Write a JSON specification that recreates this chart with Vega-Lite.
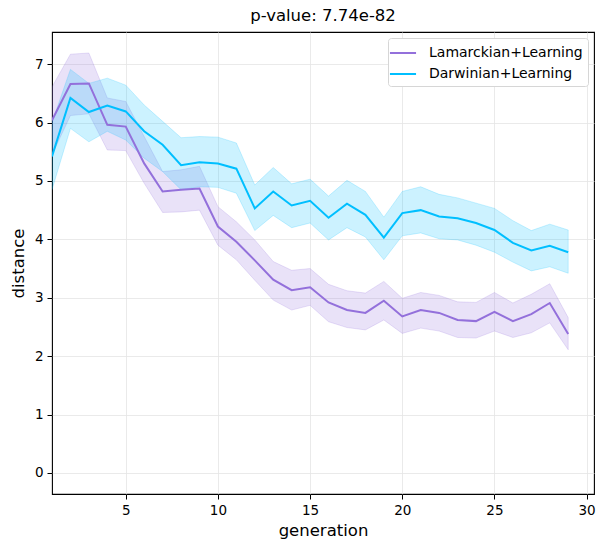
{
  "$schema": "https://vega.github.io/schema/vega-lite/v6.json",
  "width": 542,
  "height": 462,
  "autosize": "none",
  "padding": {"left": 52, "top": 32, "right": 11, "bottom": 57},
  "background": "white",
  "title": {"text": "p-value: 7.74e-82", "font": "DejaVu Sans", "fontSize": 16.5, "fontWeight": "normal", "color": "black", "offset": 8},
  "datasets": {
    "runs": [
      {"generation": 1, "method": "Lamarckian+Learning", "mean": 6.04, "lo": 5.45, "hi": 6.61},
      {"generation": 2, "method": "Lamarckian+Learning", "mean": 6.66, "lo": 6.12, "hi": 7.17},
      {"generation": 3, "method": "Lamarckian+Learning", "mean": 6.67, "lo": 6.15, "hi": 7.19},
      {"generation": 4, "method": "Lamarckian+Learning", "mean": 5.96, "lo": 5.53, "hi": 6.42},
      {"generation": 5, "method": "Lamarckian+Learning", "mean": 5.93, "lo": 5.52, "hi": 6.36},
      {"generation": 6, "method": "Lamarckian+Learning", "mean": 5.30, "lo": 4.96, "hi": 5.76},
      {"generation": 7, "method": "Lamarckian+Learning", "mean": 4.82, "lo": 4.46, "hi": 5.16},
      {"generation": 8, "method": "Lamarckian+Learning", "mean": 4.85, "lo": 4.47, "hi": 5.19},
      {"generation": 9, "method": "Lamarckian+Learning", "mean": 4.87, "lo": 4.50, "hi": 5.25},
      {"generation": 10, "method": "Lamarckian+Learning", "mean": 4.22, "lo": 3.90, "hi": 4.56},
      {"generation": 11, "method": "Lamarckian+Learning", "mean": 3.96, "lo": 3.65, "hi": 4.30},
      {"generation": 12, "method": "Lamarckian+Learning", "mean": 3.64, "lo": 3.30, "hi": 3.99},
      {"generation": 13, "method": "Lamarckian+Learning", "mean": 3.31, "lo": 2.96, "hi": 3.62},
      {"generation": 14, "method": "Lamarckian+Learning", "mean": 3.13, "lo": 2.79, "hi": 3.47},
      {"generation": 15, "method": "Lamarckian+Learning", "mean": 3.18, "lo": 2.87, "hi": 3.50},
      {"generation": 16, "method": "Lamarckian+Learning", "mean": 2.92, "lo": 2.59, "hi": 3.23},
      {"generation": 17, "method": "Lamarckian+Learning", "mean": 2.79, "lo": 2.49, "hi": 3.12},
      {"generation": 18, "method": "Lamarckian+Learning", "mean": 2.74, "lo": 2.45, "hi": 3.08},
      {"generation": 19, "method": "Lamarckian+Learning", "mean": 2.95, "lo": 2.62, "hi": 3.28},
      {"generation": 20, "method": "Lamarckian+Learning", "mean": 2.68, "lo": 2.39, "hi": 2.99},
      {"generation": 21, "method": "Lamarckian+Learning", "mean": 2.79, "lo": 2.48, "hi": 3.09},
      {"generation": 22, "method": "Lamarckian+Learning", "mean": 2.74, "lo": 2.43, "hi": 3.04},
      {"generation": 23, "method": "Lamarckian+Learning", "mean": 2.62, "lo": 2.32, "hi": 2.93},
      {"generation": 24, "method": "Lamarckian+Learning", "mean": 2.60, "lo": 2.31, "hi": 2.92},
      {"generation": 25, "method": "Lamarckian+Learning", "mean": 2.76, "lo": 2.43, "hi": 3.09},
      {"generation": 26, "method": "Lamarckian+Learning", "mean": 2.60, "lo": 2.32, "hi": 2.91},
      {"generation": 27, "method": "Lamarckian+Learning", "mean": 2.72, "lo": 2.40, "hi": 3.06},
      {"generation": 28, "method": "Lamarckian+Learning", "mean": 2.91, "lo": 2.57, "hi": 3.24},
      {"generation": 29, "method": "Lamarckian+Learning", "mean": 2.38, "lo": 2.11, "hi": 2.66},
      {"generation": 1, "method": "Darwinian+Learning", "mean": 5.42, "lo": 4.85, "hi": 6.00},
      {"generation": 2, "method": "Darwinian+Learning", "mean": 6.42, "lo": 5.90, "hi": 6.91},
      {"generation": 3, "method": "Darwinian+Learning", "mean": 6.18, "lo": 5.67, "hi": 6.67},
      {"generation": 4, "method": "Darwinian+Learning", "mean": 6.29, "lo": 5.85, "hi": 6.76},
      {"generation": 5, "method": "Darwinian+Learning", "mean": 6.19, "lo": 5.70, "hi": 6.64},
      {"generation": 6, "method": "Darwinian+Learning", "mean": 5.85, "lo": 5.39, "hi": 6.30},
      {"generation": 7, "method": "Darwinian+Learning", "mean": 5.62, "lo": 5.16, "hi": 6.02},
      {"generation": 8, "method": "Darwinian+Learning", "mean": 5.27, "lo": 4.85, "hi": 5.74},
      {"generation": 9, "method": "Darwinian+Learning", "mean": 5.32, "lo": 4.90, "hi": 5.76},
      {"generation": 10, "method": "Darwinian+Learning", "mean": 5.30, "lo": 4.89, "hi": 5.75},
      {"generation": 11, "method": "Darwinian+Learning", "mean": 5.21, "lo": 4.79, "hi": 5.65},
      {"generation": 12, "method": "Darwinian+Learning", "mean": 4.53, "lo": 4.15, "hi": 4.93},
      {"generation": 13, "method": "Darwinian+Learning", "mean": 4.82, "lo": 4.41, "hi": 5.23},
      {"generation": 14, "method": "Darwinian+Learning", "mean": 4.58, "lo": 4.20, "hi": 4.95},
      {"generation": 15, "method": "Darwinian+Learning", "mean": 4.66, "lo": 4.28, "hi": 5.03},
      {"generation": 16, "method": "Darwinian+Learning", "mean": 4.37, "lo": 3.99, "hi": 4.74},
      {"generation": 17, "method": "Darwinian+Learning", "mean": 4.61, "lo": 4.20, "hi": 5.01},
      {"generation": 18, "method": "Darwinian+Learning", "mean": 4.42, "lo": 4.04, "hi": 4.82},
      {"generation": 19, "method": "Darwinian+Learning", "mean": 4.03, "lo": 3.65, "hi": 4.38},
      {"generation": 20, "method": "Darwinian+Learning", "mean": 4.45, "lo": 4.06, "hi": 4.82},
      {"generation": 21, "method": "Darwinian+Learning", "mean": 4.50, "lo": 4.11, "hi": 4.90},
      {"generation": 22, "method": "Darwinian+Learning", "mean": 4.39, "lo": 4.01, "hi": 4.77},
      {"generation": 23, "method": "Darwinian+Learning", "mean": 4.36, "lo": 3.99, "hi": 4.71},
      {"generation": 24, "method": "Darwinian+Learning", "mean": 4.28, "lo": 3.90, "hi": 4.62},
      {"generation": 25, "method": "Darwinian+Learning", "mean": 4.16, "lo": 3.78, "hi": 4.53},
      {"generation": 26, "method": "Darwinian+Learning", "mean": 3.94, "lo": 3.61, "hi": 4.32},
      {"generation": 27, "method": "Darwinian+Learning", "mean": 3.81, "lo": 3.46, "hi": 4.15},
      {"generation": 28, "method": "Darwinian+Learning", "mean": 3.89, "lo": 3.53, "hi": 4.26},
      {"generation": 29, "method": "Darwinian+Learning", "mean": 3.78, "lo": 3.42, "hi": 4.16}
    ]
  },
  "data": {"name": "runs"},
  "encoding": {
    "x": {
      "field": "generation",
      "type": "quantitative",
      "scale": {"domain": [1, 30.4], "nice": false, "zero": false},
      "axis": {"values": [5, 10, 15, 20, 25, 30], "format": "d", "title": "generation", "titlePadding": 6}
    }
  },
  "layer": [
    {
      "transform": [{"filter": "datum.method == 'Lamarckian+Learning'"}],
      "mark": {"type": "area", "fill": "#9370DB", "fillOpacity": 0.2, "stroke": "#9370DB", "strokeOpacity": 0.2, "strokeWidth": 1, "clip": true},
      "encoding": {
        "y": {"field": "lo", "type": "quantitative"},
        "y2": {"field": "hi"}
      }
    },
    {
      "transform": [{"filter": "datum.method == 'Darwinian+Learning'"}],
      "mark": {"type": "area", "fill": "#00BFFF", "fillOpacity": 0.2, "stroke": "#00BFFF", "strokeOpacity": 0.2, "strokeWidth": 1, "clip": true},
      "encoding": {
        "y": {"field": "lo", "type": "quantitative"},
        "y2": {"field": "hi"}
      }
    },
    {
      "mark": {"type": "line", "strokeWidth": 2, "clip": true},
      "encoding": {
        "y": {
          "field": "mean",
          "type": "quantitative",
          "scale": {"domain": [-0.36, 7.55], "nice": false, "zero": false},
          "axis": {"values": [0, 1, 2, 3, 4, 5, 6, 7], "format": "d", "title": "distance", "titlePadding": 8}
        },
        "color": {
          "field": "method",
          "type": "nominal",
          "sort": ["Lamarckian+Learning", "Darwinian+Learning"],
          "scale": {"domain": ["Lamarckian+Learning", "Darwinian+Learning"], "range": ["#9370DB", "#00BFFF"]},
          "legend": {
            "title": null,
            "orient": "top-right",
            "offset": 6,
            "symbolType": "M-1.45,0H1.45",
            "symbolSize": 324,
            "symbolStrokeWidth": 2,
            "labelOffset": 16,
            "labelFontSize": 14,
            "labelFont": "DejaVu Sans",
            "labelColor": "black",
            "rowPadding": 4,
            "padding": 5,
            "strokeColor": "#d6d6d6",
            "fillColor": "white",
            "cornerRadius": 3
          }
        }
      }
    }
  ],
  "config": {
    "view": {"stroke": "black", "strokeWidth": 1.1},
    "axis": {
      "domain": false,
      "grid": true,
      "gridColor": "#e5e5e5",
      "gridWidth": 0.8,
      "ticks": true,
      "tickColor": "black",
      "tickSize": 5,
      "tickWidth": 1,
      "labelFont": "DejaVu Sans",
      "labelFontSize": 13.5,
      "labelColor": "black",
      "labelPadding": 4,
      "titleFont": "DejaVu Sans",
      "titleFontSize": 16.5,
      "titleFontWeight": "normal",
      "titleColor": "black"
    }
  }
}
